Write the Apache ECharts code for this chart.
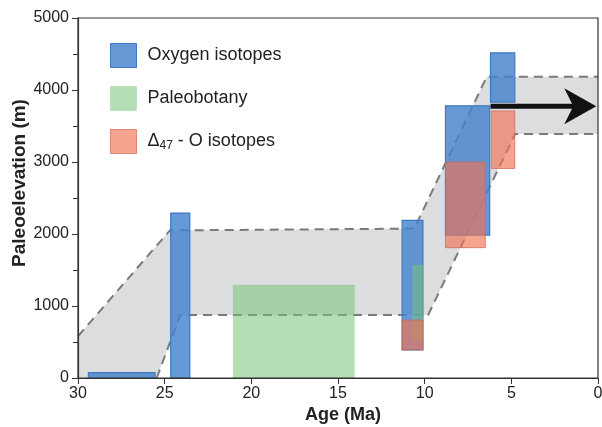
<!DOCTYPE html>
<html>
<head>
<meta charset="utf-8">
<script src="https://cdn.jsdelivr.net/npm/echarts@6/dist/echarts.min.js"></script>
<style>html,body{margin:0;padding:0;background:#fff}#c{width:602px;height:427px}</style>
</head>
<body>
<div id="c"></div>
<script>
// ---- data (age in Ma, elevation in m) ----
const xTicks = [30, 25, 20, 15, 10, 5, 0];
const yTicks = [0, 1000, 2000, 3000, 4000, 5000];
const seriesNames = ['Oxygen isotopes', 'Paleobotany', 'Δ47 - O isotopes'];
// [ageOld, ageYoung, elevLow, elevHigh]
const oxygenBars = [
  [29.4, 25.55, 0, 75],
  [24.65, 23.55, 0, 2290],
  [11.3, 10.1, 390, 2190],
  [8.8, 6.25, 1985, 3780],
  [6.2, 4.8, 3830, 4515]
];
const paleobotanyBars = [
  [21.05, 14.05, 0, 1290],
  [10.7, 10.1, 520, 1570]
];
const clumpedBars = [
  [11.3, 10.1, 390, 805],
  [8.8, 6.5, 1810, 3000],
  [6.15, 4.8, 2910, 3710]
];
const bandUpper = [[30, 580], [24.7, 2050], [10.6, 2075], [6.42, 4185], [0, 4185]];
const bandLower = [[25.46, 0], [24.1, 875], [9.8, 875], [4.78, 3390], [0, 3390]];
const bandCorner = [30, 0];
const arrowPath = [[6.2, 3775], [0.1, 3775]];

const chart = echarts.init(document.getElementById('c'));

function rectItem(params, api) {
  const a = api.coord([api.value(0), api.value(3)]);
  const b = api.coord([api.value(1), api.value(2)]);
  return {
    type: 'rect',
    shape: { x: Math.min(a[0], b[0]), y: Math.min(a[1], b[1]), width: Math.abs(b[0] - a[0]), height: Math.abs(b[1] - a[1]) },
    style: api.style()
  };
}

const colors = {
  oxy: { fill: 'rgba(70,130,205,0.82)', border: '#3f78c4' },
  bot: { fill: 'rgba(120,195,120,0.55)', border: 'rgba(120,195,120,0.3)' },
  cl: { fill: 'rgba(240,115,85,0.65)', border: 'rgba(210,100,80,0.7)' }
};
const font = 'Liberation Sans, Arial, sans-serif';

const option = {
  animation: false,
  grid: {
    left: 78, right: 4, top: 18, bottom: 49, containLabel: false, outerBoundsMode: 'none',
    show: true, borderColor: '#333', borderWidth: 1.2, backgroundColor: 'transparent', z: 10
  },
  legend: {
    orient: 'vertical', left: 110, top: 43, padding: 0, itemWidth: 26, itemHeight: 24, itemGap: 18,
    selectedMode: false,
    textStyle: {
      fontFamily: font, fontSize: 18, color: '#222', padding: [0, 0, 0, 6],
      rich: {
        a: { fontSize: 18, color: '#222', fontFamily: font },
        sub: { fontSize: 12, color: '#222', verticalAlign: 'bottom', padding: [8, 0, 0, 0], fontFamily: font }
      }
    },
    formatter: function (name) {
      if (name === seriesNames[2]) return '{a|Δ}{sub|47}{a| - O isotopes}';
      return name;
    },
    data: [
      { name: seriesNames[0], icon: 'rect', itemStyle: { color: colors.oxy.fill, borderColor: colors.oxy.border, borderWidth: 1 } },
      { name: seriesNames[1], icon: 'rect', itemStyle: { color: colors.bot.fill, borderColor: colors.bot.border, borderWidth: 1 } },
      { name: seriesNames[2], icon: 'rect', itemStyle: { color: colors.cl.fill, borderColor: colors.cl.border, borderWidth: 1 } }
    ]
  },
  xAxis: {
    type: 'value', inverse: true,
    min: Math.min(...xTicks), max: Math.max(...xTicks), interval: xTicks[0] - xTicks[1],
    name: 'Age (Ma)', nameLocation: 'middle', nameGap: 28, nameMoveOverlap: false,
    nameTextStyle: { fontFamily: font, fontWeight: 'bold', fontSize: 18, color: '#222', padding: [0, 0, 0, 10] },
    z: 10,
    axisLine: { show: true, onZero: false, lineStyle: { color: '#333', width: 1.2 } },
    axisTick: { show: true, length: 6, lineStyle: { color: '#333' } },
    axisLabel: { fontFamily: font, fontSize: 16, color: '#222', margin: 8, formatter: v => String(v) },
    splitLine: { show: false }
  },
  yAxis: {
    type: 'value', min: Math.min(...yTicks), max: Math.max(...yTicks), interval: yTicks[1] - yTicks[0],
    name: 'Paleoelevation (m)', nameLocation: 'middle', nameGap: 49, nameMoveOverlap: false,
    nameTextStyle: { fontFamily: font, fontWeight: 'bold', fontSize: 19, color: '#222', padding: [0, 0, 0, 30] },
    z: 10,
    axisLine: { show: true, onZero: false, lineStyle: { color: '#333', width: 1.2 } },
    axisTick: { show: true, length: 6, lineStyle: { color: '#333' } },
    minorTick: { show: true, splitNumber: 2, length: 5, lineStyle: { color: '#333' } },
    axisLabel: { fontFamily: font, fontSize: 16, color: '#222', margin: 9, formatter: v => String(v) },
    splitLine: { show: false }
  },
  series: [
    {
      type: 'custom', name: 'band', silent: true, z: 1,
      data: [[0]],
      renderItem: function (params, api) {
        const up = bandUpper.map(p => api.coord(p));
        const lo = bandLower.map(p => api.coord(p));
        const poly = up.concat(lo.slice().reverse(), [api.coord(bandCorner)]);
        const dash = { stroke: '#7a7a7a', lineWidth: 2, lineDash: [9, 6], fill: null };
        return {
          type: 'group',
          children: [
            { type: 'polygon', shape: { points: poly }, style: { fill: '#dcdddf', stroke: null } },
            { type: 'polyline', shape: { points: up }, style: dash },
            { type: 'polyline', shape: { points: lo }, style: dash }
          ]
        };
      }
    },
    {
      type: 'custom', name: seriesNames[0], z: 3,
      itemStyle: { color: colors.oxy.fill, borderColor: colors.oxy.border, borderWidth: 1.2 },
      data: oxygenBars, renderItem: rectItem
    },
    {
      type: 'custom', name: seriesNames[1], z: 4,
      itemStyle: { color: colors.bot.fill, borderColor: colors.bot.border, borderWidth: 0.5 },
      data: paleobotanyBars, renderItem: rectItem
    },
    {
      type: 'custom', name: seriesNames[2], z: 5,
      itemStyle: { color: colors.cl.fill, borderColor: colors.cl.border, borderWidth: 1 },
      data: clumpedBars, renderItem: rectItem
    },
    {
      type: 'custom', name: 'arrow', silent: true, z: 6,
      data: [[0]],
      renderItem: function (params, api) {
        const p0 = api.coord(arrowPath[0]);
        const p1 = api.coord(arrowPath[1]);
        const headLen = 32, half = 18, notch = 9;
        return {
          type: 'group',
          children: [
            { type: 'line', shape: { x1: p0[0], y1: p0[1], x2: p1[0] - headLen + notch + 2, y2: p1[1] }, style: { stroke: '#111', lineWidth: 5 } },
            { type: 'polygon', shape: { points: [[p1[0], p1[1]], [p1[0] - headLen, p1[1] - half], [p1[0] - headLen + notch, p1[1]], [p1[0] - headLen, p1[1] + half]] }, style: { fill: '#111' } }
          ]
        };
      }
    }
  ]
};
chart.setOption(option);
</script>
</body>
</html>
